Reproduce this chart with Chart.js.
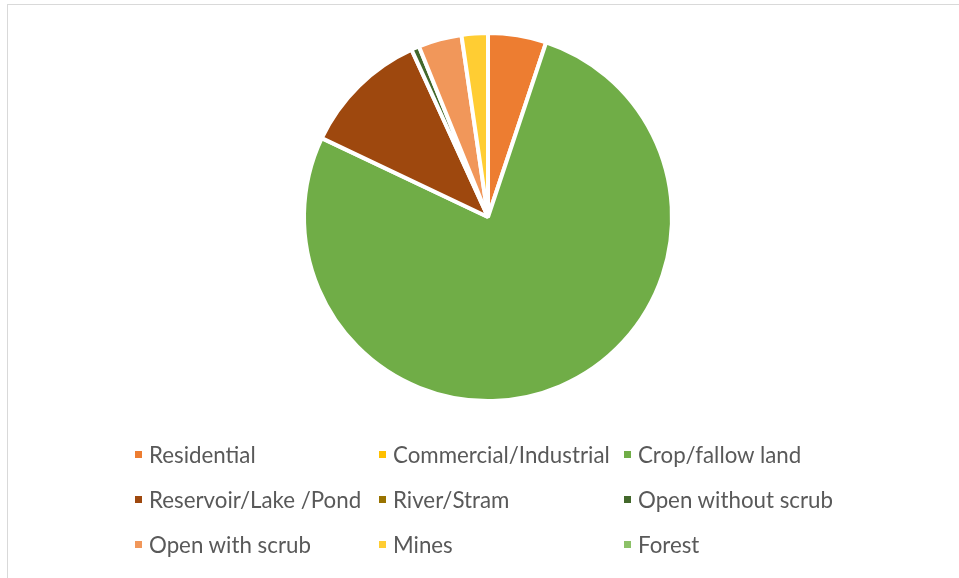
<!DOCTYPE html>
<html>
<head>
<meta charset="utf-8">
<script src="https://cdn.jsdelivr.net/npm/chart.js@4"></script>
<style>
  body { margin: 0; background: #fff; }
  #wrap { position: relative; width: 959px; height: 578px; overflow: hidden; }
  #frame { position: absolute; left: 7px; top: 4px; width: 970px; height: 600px; border: 1px solid #d9d9d9; box-sizing: border-box; }
  canvas { position: absolute; left: 0; top: 0; }
  #legend { position: absolute; left: 131px; top: 439px; display: grid; grid-template-columns: 244px 245px 260px; grid-auto-rows: 45px; font-family: Lato, sans-serif; font-size: 22.3px; color: #595959; }
  #legend div { display: flex; align-items: center; height: 30px; white-space: nowrap; }
  #legend span.box { display: inline-block; width: 7px; height: 7px; margin: 0 7px 0 4px; }
</style>
</head>
<body>
<div id="wrap">
  <div id="frame"></div>
  <canvas id="pie" width="959" height="578"></canvas>
  <div id="legend"></div>
</div>
<script>
var categories = ["Residential", "Commercial/Industrial", "Crop/fallow land", "Reservoir/Lake /Pond", "River/Stram", "Open without scrub", "Open with scrub", "Mines", "Forest"];
var shares = [5.1, 0, 76.7, 11.1, 0, 0.7, 3.8, 2.3, 0];
var colors = ["#ED7D31", "#FFC000", "#70AD47", "#9E480E", "#997300", "#43682B", "#F1975A", "#FFCD33", "#8CC168"];

document.addEventListener("DOMContentLoaded", function () {
  var ctx = document.getElementById("pie").getContext("2d");
  var chart = new Chart(ctx, {
    type: "pie",
    data: {
      labels: categories,
      datasets: [
        {
          data: shares,
          backgroundColor: colors,
          borderColor: "#ffffff",
          borderWidth: 4,
        },
      ],
    },
    options: {
      responsive: false,
      animation: false,
      layout: {
        padding: { top: 31, bottom: 175, left: 302, right: 285 },
      },
      plugins: {
        legend: { display: false },
        tooltip: { enabled: false },
      },
    },
  });

  // legend in three columns, like the original
  var legend = document.getElementById("legend");
  categories.forEach(function (name, i) {
    var item = document.createElement("div");
    item.innerHTML = '<span class="box" style="background:' + colors[i] + '"></span>' + name;
    legend.appendChild(item);
  });
});
</script>
</body>
</html>
